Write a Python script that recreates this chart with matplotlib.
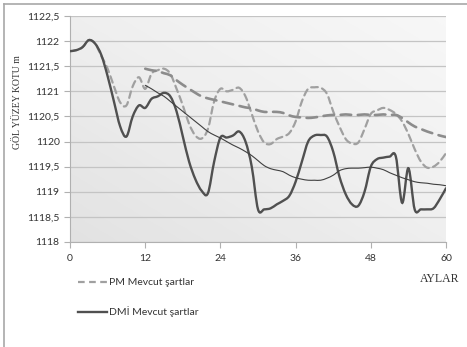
import numpy as np
import matplotlib
matplotlib.use("Agg")
import matplotlib.pyplot as plt
from matplotlib.lines import Line2D
from matplotlib.path import Path
from matplotlib.patches import PathPatch

# months 0..60
months = list(range(61))

dmi = [1121.80, 1121.82, 1121.88, 1122.02, 1121.95, 1121.72, 1121.30, 1120.80, 1120.30, 1120.10,
       1120.50, 1120.72, 1120.67, 1120.85, 1120.90, 1120.97, 1120.90, 1120.60, 1120.10, 1119.60,
       1119.25, 1119.02, 1118.97, 1119.60, 1120.08, 1120.08, 1120.12, 1120.20, 1120.00, 1119.50,
       1118.65, 1118.65, 1118.67, 1118.75, 1118.82, 1118.92, 1119.20, 1119.60, 1120.00, 1120.12,
       1120.13, 1120.10, 1119.80, 1119.30, 1118.95, 1118.75, 1118.72, 1119.00, 1119.50, 1119.65,
       1119.68, 1119.70, 1119.70, 1118.78, 1119.47, 1118.65, 1118.65, 1118.65, 1118.67, 1118.85,
       1119.07]

pm = [1121.80, 1121.82, 1121.88, 1122.02, 1121.95, 1121.70, 1121.45, 1121.10, 1120.78, 1120.72,
      1121.10, 1121.28, 1121.05, 1121.35, 1121.42, 1121.45, 1121.35, 1121.05, 1120.72, 1120.35,
      1120.12, 1120.06, 1120.25, 1120.80, 1121.05, 1121.00, 1121.03, 1121.07, 1120.90, 1120.55,
      1120.20, 1119.98, 1119.95, 1120.05, 1120.10, 1120.17, 1120.40, 1120.80, 1121.05, 1121.08,
      1121.07, 1120.95, 1120.60, 1120.30, 1120.05, 1119.96, 1119.98, 1120.25, 1120.55, 1120.62,
      1120.67, 1120.63, 1120.55, 1120.40, 1120.15, 1119.85, 1119.60, 1119.48, 1119.50, 1119.60,
      1119.77]

# trend lines from month 12
trend_months = list(range(12, 61))
pm_trend = [1121.45, 1121.42, 1121.40, 1121.36, 1121.32, 1121.22, 1121.13, 1121.05, 1120.97, 1120.90,
            1120.86, 1120.83, 1120.80, 1120.77, 1120.74, 1120.71, 1120.68, 1120.66, 1120.62, 1120.59,
            1120.59, 1120.59, 1120.57, 1120.52, 1120.49, 1120.48, 1120.47, 1120.48, 1120.50, 1120.52,
            1120.53, 1120.53, 1120.54, 1120.53, 1120.53, 1120.54, 1120.53, 1120.53, 1120.54, 1120.53,
            1120.53, 1120.47, 1120.38, 1120.30, 1120.25, 1120.20, 1120.16, 1120.12, 1120.09]
dmi_trend = [1121.12, 1121.05, 1120.97, 1120.90, 1120.80, 1120.70, 1120.60, 1120.50, 1120.40, 1120.30,
             1120.20, 1120.13, 1120.07, 1120.00, 1119.93, 1119.87, 1119.80, 1119.72, 1119.62, 1119.52,
             1119.46, 1119.43, 1119.40, 1119.33, 1119.28, 1119.25, 1119.23, 1119.23, 1119.23, 1119.27,
             1119.33, 1119.42, 1119.46, 1119.47, 1119.47, 1119.48, 1119.49, 1119.47, 1119.44, 1119.38,
             1119.33, 1119.28, 1119.24, 1119.20, 1119.18, 1119.17, 1119.15, 1119.14, 1119.12]

xticks = [0, 12, 24, 36, 48, 60]
yticks = np.arange(1118, 1122.51, 0.5)
ytick_labels = ["1118", "1118,5", "1119", "1119,5", "1120", "1120,5", "1121", "1121,5", "1122", "1122,5"]

sans = "Lato"
serif = "Liberation Serif"


def smooth_path(xs, ys):
    # Excel-style smoothed line: cubic Bezier through every point (Catmull-Rom tangents)
    x = np.asarray(xs, float)
    y = np.asarray(ys, float)
    verts = [(x[0], y[0])]
    codes = [Path.MOVETO]
    n = len(x)
    for i in range(n - 1):
        x0, y0 = (x[i - 1], y[i - 1]) if i > 0 else (x[i], y[i])
        x3, y3 = (x[i + 2], y[i + 2]) if i + 2 < n else (x[i + 1], y[i + 1])
        c1 = (x[i] + (x[i + 1] - x0) / 6, y[i] + (y[i + 1] - y0) / 6)
        c2 = (x[i + 1] - (x3 - x[i]) / 6, y[i + 1] - (y3 - y[i]) / 6)
        verts += [c1, c2, (x[i + 1], y[i + 1])]
        codes += [Path.CURVE4] * 3
    return Path(verts, codes)


def add_line(ax, xs, ys, **kw):
    ax.add_patch(PathPatch(smooth_path(xs, ys), fill=False, capstyle="round", **kw))


fig = plt.figure(figsize=(4.67, 3.47), dpi=100)
ax = fig.add_axes([0.15, 0.3026, 0.805, 0.6513])

# light gradient background of the plot area
grad = np.linspace(0, 1, 200)
gx, gy = np.meshgrid(grad, grad)
ax.imshow(0.5 * gx + 0.5 * (1 - gy), extent=[0, 60, 1118, 1122.5], origin="upper",
          cmap="Greys_r", vmin=-6, vmax=1.5, aspect="auto", zorder=0)

add_line(ax, months, pm, edgecolor="#a0a0a0", lw=1.6, ls=(0, (3, 2)), zorder=3)
add_line(ax, trend_months, pm_trend, edgecolor="#8c8c8c", lw=1.9, ls=(0, (4, 2.5)), zorder=3)
add_line(ax, months, dmi, edgecolor="#505050", lw=1.7, zorder=4)
add_line(ax, trend_months, dmi_trend, edgecolor="#404040", lw=0.8, zorder=4)

ax.set_xlim(0, 60)
ax.set_ylim(1118, 1122.5)
ax.set_xticks(xticks)
ax.set_xticklabels([str(t) for t in xticks], fontname=sans, fontsize=7.5, color="#333333")
ax.set_yticks(yticks)
ax.set_yticklabels(ytick_labels, fontname=sans, fontsize=7.5, color="#333333")
ax.yaxis.grid(True, color="#c4c4c4", lw=0.9)
ax.set_axisbelow(True)
for s in ["top", "right"]:
    ax.spines[s].set_visible(False)
for s in ["left", "bottom"]:
    ax.spines[s].set_color("#b0b0b0")
    ax.spines[s].set_linewidth(0.8)
ax.tick_params(axis="both", colors="#b0b0b0", labelcolor="#333333", length=4, width=0.8)
ax.tick_params(axis="x", pad=5)

ax.set_ylabel("GÖL YÜZEY KOTU m", fontname=serif, fontsize=7, color="#333333")
ax.yaxis.set_label_coords(-0.128, 0.62)

fig.text(0.942, 0.188, "AYLAR", fontname=serif, fontsize=8.5, color="#333333", ha="center")

# legend, drawn by hand below the plot
fig.add_artist(Line2D([0.167, 0.229], [0.187, 0.187], transform=fig.transFigure,
                      color="#a0a0a0", lw=1.6, ls=(0, (3, 2))))
fig.text(0.233, 0.187, "PM Mevcut şartlar", fontname=sans, fontsize=7.5, color="#333333", va="center")
fig.add_artist(Line2D([0.167, 0.229], [0.101, 0.101], transform=fig.transFigure,
                      color="#505050", lw=1.7))
fig.text(0.233, 0.101, "DMİ Mevcut şartlar", fontname=sans, fontsize=7.5, color="#333333", va="center")

# outer frame lines (top and left) of the original picture
fig.add_artist(Line2D([0.009, 1.0], [0.988, 0.988], transform=fig.transFigure, color="#a8a8a8", lw=1.2))
fig.add_artist(Line2D([0.009, 0.009], [0.0, 0.988], transform=fig.transFigure, color="#a8a8a8", lw=1.2))

fig.savefig("out.png", dpi=100)
